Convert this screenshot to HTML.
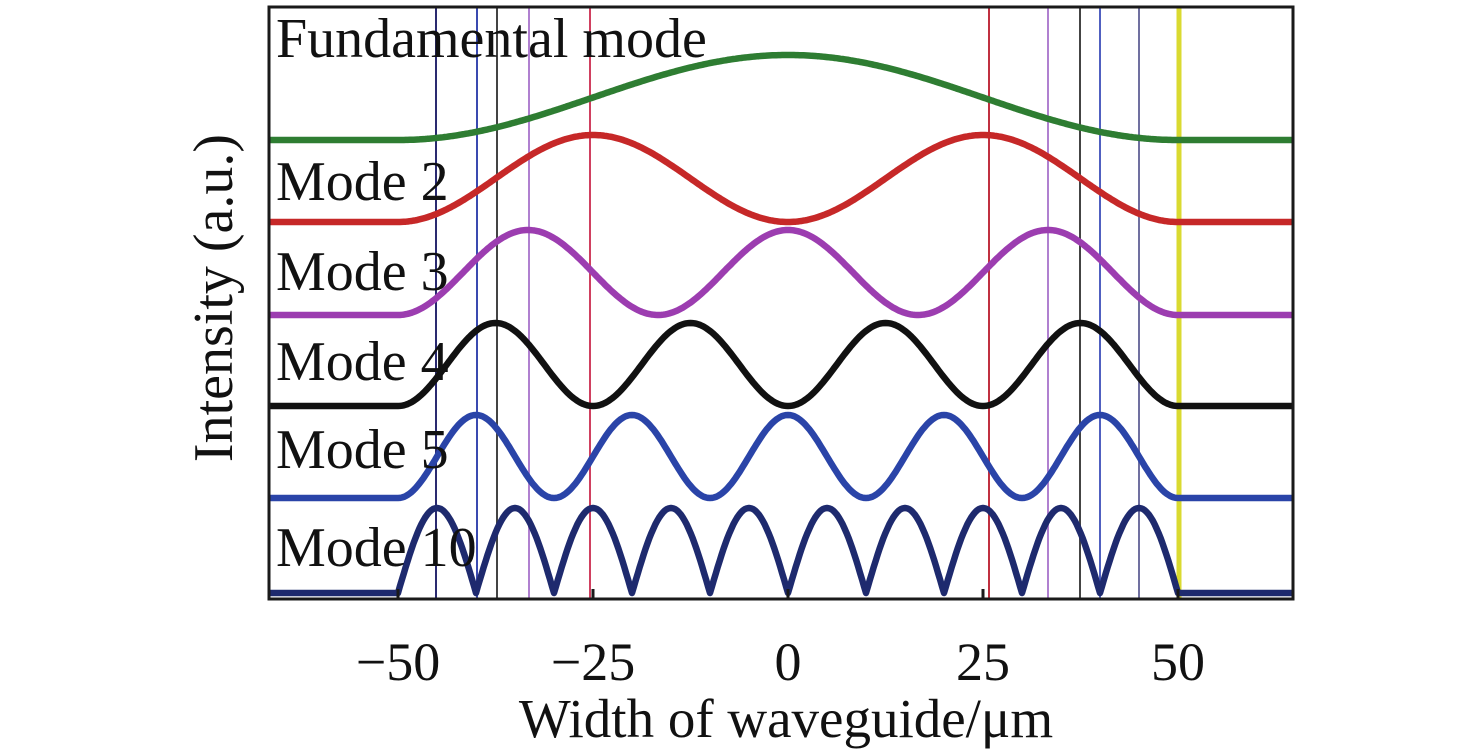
<!DOCTYPE html>
<html><head><meta charset="utf-8"><style>
html,body{margin:0;padding:0;background:#fff;}
svg{display:block;}
text{font-family:"Liberation Serif",serif;fill:#111;}
</style></head><body>
<svg id="s" width="1476" height="750" viewBox="0 0 1476 750" xmlns="http://www.w3.org/2000/svg">
<rect x="0" y="0" width="1476" height="750" fill="#fff"/>
<g id="vl">
<line x1="436" y1="7" x2="436" y2="599" stroke="#2a2a70" stroke-width="2"/>
<line x1="477" y1="7" x2="477" y2="599" stroke="#3a4ab0" stroke-width="2"/>
<line x1="497" y1="7" x2="497" y2="599" stroke="#444" stroke-width="2"/>
<line x1="529" y1="7" x2="529" y2="599" stroke="#b080d0" stroke-width="2"/>
<line x1="590" y1="7" x2="590" y2="599" stroke="#d04060" stroke-width="2"/>
<line x1="989" y1="7" x2="989" y2="599" stroke="#c03040" stroke-width="2"/>
<line x1="1048" y1="7" x2="1048" y2="599" stroke="#b080d0" stroke-width="2"/>
<line x1="1080" y1="7" x2="1080" y2="599" stroke="#444" stroke-width="2"/>
<line x1="1100" y1="7" x2="1100" y2="599" stroke="#5060c0" stroke-width="2"/>
<line x1="1139" y1="7" x2="1139" y2="599" stroke="#7070a0" stroke-width="2"/>
<line x1="1179" y1="7" x2="1179" y2="599" stroke="#dada30" stroke-width="5"/>
</g>
<g id="curves" fill="none" stroke-width="6.5" stroke-linejoin="round"></g>
<rect x="269" y="7" width="1024" height="592" fill="none" stroke="#1a1a1a" stroke-width="3"/>
<line x1="398" y1="599" x2="398" y2="589" stroke="#1a1a1a" stroke-width="3"/>
<line x1="593" y1="599" x2="593" y2="589" stroke="#1a1a1a" stroke-width="3"/>
<line x1="788" y1="599" x2="788" y2="589" stroke="#1a1a1a" stroke-width="3"/>
<line x1="983" y1="599" x2="983" y2="589" stroke="#1a1a1a" stroke-width="3"/>
<line x1="1178" y1="599" x2="1178" y2="589" stroke="#1a1a1a" stroke-width="3"/>
<g font-size="56">
<text x="276" y="57">Fundamental mode</text>
<text x="276" y="200">Mode 2</text>
<text x="276" y="290">Mode 3</text>
<text x="276" y="380">Mode 4</text>
<text x="276" y="468">Mode 5</text>
<text x="276" y="566">Mode 10</text>
</g>
<g font-size="54" text-anchor="middle">
<text x="398" y="680">−50</text>
<text x="593" y="680">−25</text>
<text x="788" y="680">0</text>
<text x="983" y="680">25</text>
<text x="1178" y="680">50</text>
</g>
<text x="786" y="737" font-size="55" text-anchor="middle">Width of waveguide/μm</text>
<text transform="translate(232,298) rotate(-90)" font-size="56" text-anchor="middle">Intensity (a.u.)</text>
</svg>
<script>
var g=document.getElementById('curves');
function X(u){return 788+u*7.8;}
var modes=[
 {b:140,t:55,c:'#2e7d32',f:function(u){var v=Math.cos(Math.PI*u/100);return v*v;}},
 {b:222,t:135,c:'#c62828',f:function(u){var v=Math.sin(2*Math.PI*u/100);return v*v;}},
 {b:315,t:230,c:'#9c3db0',f:function(u){var v=Math.cos(3*Math.PI*u/100);return v*v;}},
 {b:406,t:323,c:'#111',f:function(u){var v=Math.sin(4*Math.PI*u/100);return v*v;}},
 {b:498,t:415,c:'#2a44a8',f:function(u){var v=Math.cos(5*Math.PI*u/100);return v*v;}},
 {b:593,t:508,c:'#1e2a6e',f:function(u){return Math.abs(Math.sin(10*Math.PI*u/100));}}
];
modes.forEach(function(m){
 var d='M270,'+m.b+' L'+X(-50)+','+m.b;
 for(var u=-50;u<=50.001;u+=0.25){d+=' L'+X(u).toFixed(1)+','+(m.b-(m.b-m.t)*m.f(u)).toFixed(1);}
 d+=' L1292,'+m.b;
 var p=document.createElementNS('http://www.w3.org/2000/svg','path');
 p.setAttribute('d',d);p.setAttribute('stroke',m.c);g.appendChild(p);
});
</script>
</body></html>
